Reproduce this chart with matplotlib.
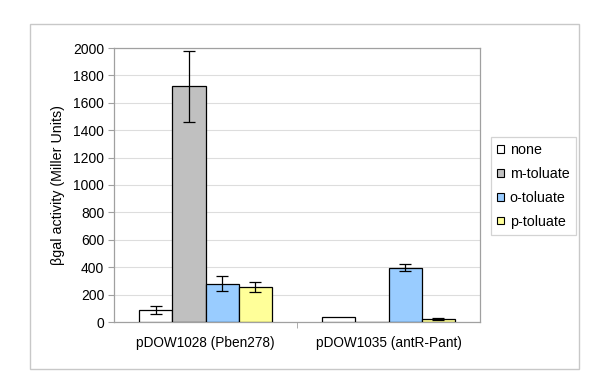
import matplotlib
matplotlib.use("Agg")
import matplotlib.pyplot as plt
from matplotlib.patches import Rectangle, Patch
import numpy as np

plt.rcParams['font.family'] = ['Liberation Sans', 'DejaVu Sans']

groups = ["pDOW1028 (Pben278)", "pDOW1035 (antR-Pant)"]
series = ["none", "m-toluate", "o-toluate", "p-toluate"]
values = {
    "none": [90, 34],
    "m-toluate": [1720, 2],
    "o-toluate": [280, 397],
    "p-toluate": [255, 24],
}
errors = {
    "none": [30, 0],
    "m-toluate": [257, 0],
    "o-toluate": [53, 24],
    "p-toluate": [35, 6],
}
colors = {
    "none": "#ffffff",
    "m-toluate": "#c0c0c0",
    "o-toluate": "#99ccff",
    "p-toluate": "#ffff99",
}
yticks = [0, 200, 400, 600, 800, 1000, 1200, 1400, 1600, 1800, 2000]

W, H = 600, 389
fig = plt.figure(figsize=(6, 3.89), dpi=100)
ax = fig.add_axes([114 / W, 1 - 322 / H, (480 - 114) / W, (322 - 48) / H])

# outer frame
fig.patches.append(Rectangle((30 / W, 1 - 369 / H), (579 - 30) / W, (369 - 24) / H,
                             transform=fig.transFigure, fill=False,
                             edgecolor="#c8c8c8", linewidth=1.0))

n = len(series)
bw = 1 / 5.5
x = np.arange(len(groups))
for i, s in enumerate(series):
    pos = x + (i - (n - 1) / 2) * bw
    ax.bar(pos, values[s], width=bw, color=colors[s], edgecolor="black",
           linewidth=0.9, zorder=3)
    yerr = errors[s]
    mask = [e > 0 for e in yerr]
    ax.errorbar(pos[mask], np.array(values[s])[mask], yerr=np.array(yerr)[mask],
                fmt="none", ecolor="black", elinewidth=0.9, capsize=4,
                capthick=0.9, zorder=4)

ax.set_xlim(-0.5, len(groups) - 0.5)
ax.set_ylim(0, 2000)
ax.set_yticks(yticks)
ax.set_yticklabels([str(t) for t in yticks], fontsize=10)
ax.set_xticks(x)
ax.set_xticklabels(groups, fontsize=9.8)
ax.tick_params(axis="x", length=0, pad=10)
ax.set_xticks([0.5], minor=True)
ax.tick_params(axis="x", which="minor", length=4, color="#a0a0a0", direction="out")
ax.tick_params(axis="y", length=4, color="#a0a0a0", direction="out", pad=3)
ax.yaxis.grid(True, color="#dddddd", linewidth=0.8, zorder=0)
ax.set_axisbelow(True)
for sp in ax.spines.values():
    sp.set_color("#a0a0a0")
    sp.set_linewidth(0.9)
ax.set_ylabel("βgal activity (Miller Units)", fontsize=10.3, labelpad=6)

handles = [Patch(facecolor=colors[s], edgecolor="black", linewidth=0.8, label=s)
           for s in series]
leg = fig.legend(handles=handles, loc="upper left",
                 bbox_to_anchor=(491 / W, 1 - 137 / H), fontsize=10.3,
                 frameon=True, fancybox=False, handlelength=0.45, handleheight=0.45,
                 handletextpad=0.4, borderpad=0.45, labelspacing=0.68,
                 borderaxespad=0)
leg.get_frame().set_edgecolor("#c8c8c8")
leg.get_frame().set_linewidth(0.9)

fig.savefig("out.png", dpi=100)
